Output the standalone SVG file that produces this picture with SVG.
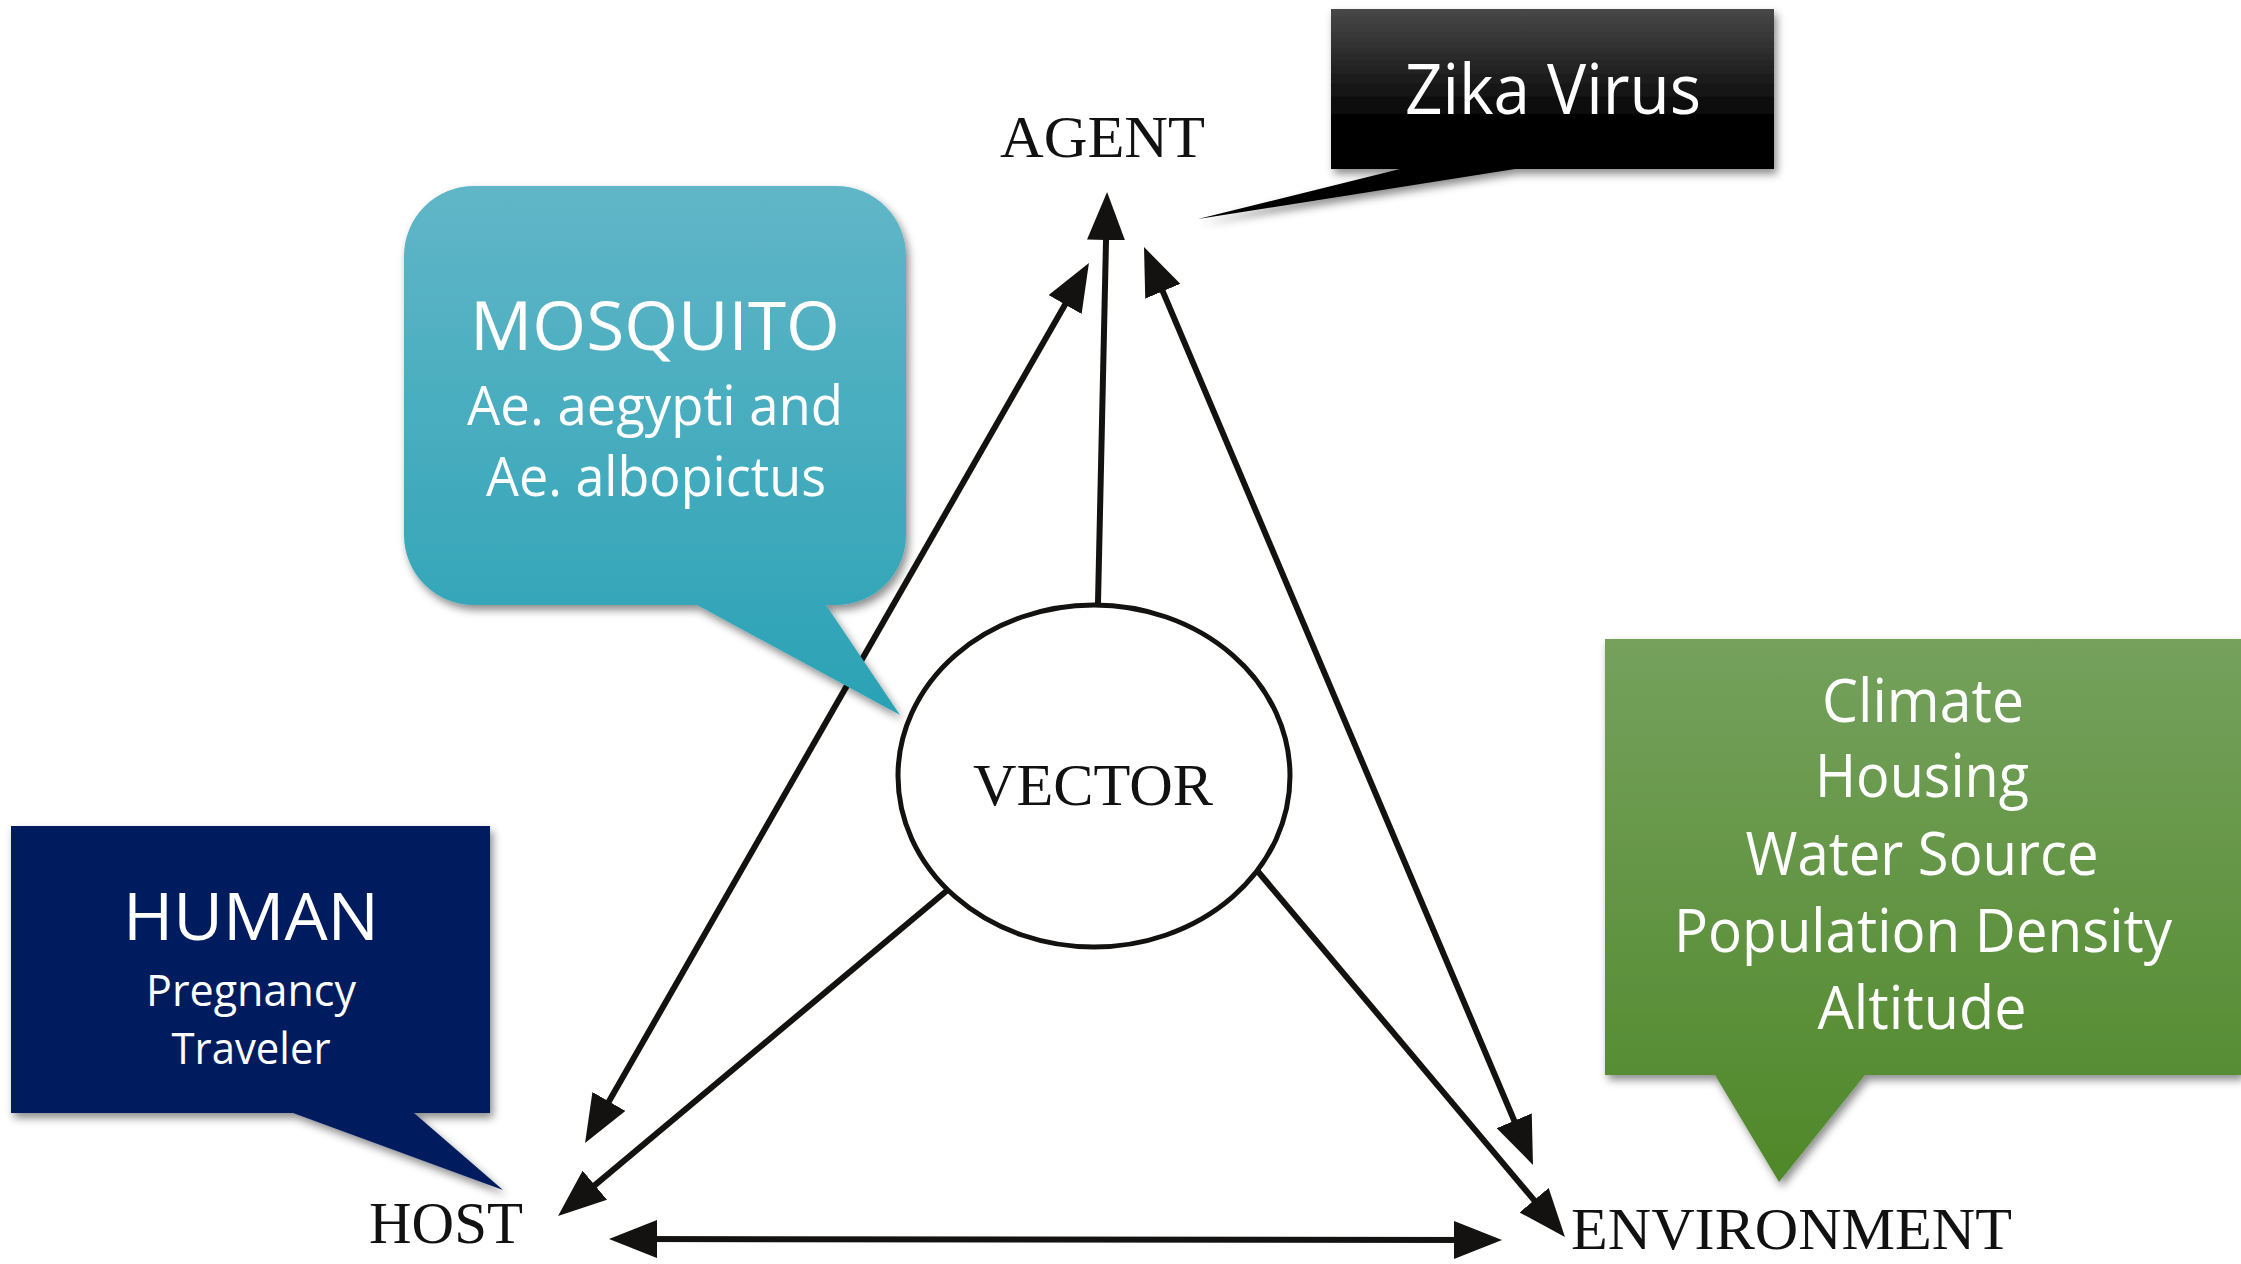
<svg xmlns="http://www.w3.org/2000/svg" width="2241" height="1264" viewBox="0 0 2241 1264">
<style>
.lbl{font-family:"Liberation Serif","Times New Roman",serif;font-size:60px;fill:#111;}
.ct{font-family:"Open Sans","Noto Sans",sans-serif;fill:#fff;text-anchor:middle;}
.ln{stroke:#141210;stroke-width:6;fill:none;}
</style>
<defs>
<marker id="ah" markerUnits="userSpaceOnUse" markerWidth="48" markerHeight="38" refX="26" refY="19" orient="auto-start-reverse" viewBox="0 0 48 38">
<path d="M0,0 L48,19 L0,38 Z" fill="#141210"/>
</marker>
<linearGradient id="gMos" x1="0" y1="0" x2="0" y2="1">
<stop offset="0" stop-color="#60b6c7"/>
<stop offset="1" stop-color="#2aa2b5"/>
</linearGradient>
<linearGradient id="gEnv" x1="0" y1="0" x2="0" y2="1">
<stop offset="0" stop-color="#75a15d"/>
<stop offset="1" stop-color="#4f8829"/>
</linearGradient>
<linearGradient id="gZika" x1="0" y1="0" x2="0" y2="1">
<stop offset="0" stop-color="#484848"/>
<stop offset="0.55" stop-color="#000"/>
<stop offset="1" stop-color="#000"/>
</linearGradient>
<filter id="sh" x="-10%" y="-10%" width="125%" height="130%">
<feDropShadow dx="3" dy="5" stdDeviation="4" flood-color="#000" flood-opacity="0.45"/>
</filter>
</defs>
<rect width="2241" height="1264" fill="#fff"/>

<g id="connectors">
<line class="ln" x1="1098" y1="603" x2="1106.6" y2="214" marker-end="url(#ah)"/>
<line class="ln" x1="596" y1="1124" x2="1078" y2="282" marker-start="url(#ah)" marker-end="url(#ah)"/>
<line class="ln" x1="1152.6" y1="267.3" x2="1524.4" y2="1144.7" marker-start="url(#ah)" marker-end="url(#ah)"/>
<line class="ln" x1="950" y1="888" x2="574.9" y2="1201.9" marker-end="url(#ah)"/>
<line class="ln" x1="1255" y1="868" x2="1550.8" y2="1220.1" marker-end="url(#ah)"/>
<line class="ln" x1="631" y1="1239" x2="1480" y2="1240" stroke-width="8" marker-start="url(#ah)" marker-end="url(#ah)"/>
</g>

<g id="agent"><text class="lbl" x="1000" y="157" textLength="205" lengthAdjust="spacingAndGlyphs">AGENT</text></g>
<g id="host"><text class="lbl" x="369" y="1243" textLength="154" lengthAdjust="spacingAndGlyphs">HOST</text></g>
<g id="environment"><text class="lbl" x="1571" y="1249" textLength="441" lengthAdjust="spacingAndGlyphs">ENVIRONMENT</text></g>
<g id="vector">
<ellipse cx="1094" cy="776" rx="196" ry="171" fill="#fff" stroke="#141210" stroke-width="5"/>
<text class="lbl" x="973" y="805" textLength="240" lengthAdjust="spacingAndGlyphs">VECTOR</text>
</g>

<g id="zika-callout">
<path d="M1331,9 H1774 V169 H1515 L1198,219 L1400,169 H1331 Z" fill="url(#gZika)" filter="url(#sh)"/>
<text class="ct" x="1553" y="114" font-size="70" textLength="296" lengthAdjust="spacingAndGlyphs">Zika Virus</text>
</g>

<g id="mosquito-callout">
<path d="M474,186 H836 A70,70 0 0 1 906,256 V535 A70,70 0 0 1 836,605 H826 L900,715 L697,605 H474 A70,70 0 0 1 404,535 V256 A70,70 0 0 1 474,186 Z" fill="url(#gMos)" filter="url(#sh)"/>
<text class="ct" x="655" y="350" font-size="68" textLength="370" lengthAdjust="spacingAndGlyphs">MOSQUITO</text>
<text class="ct" x="655" y="425" font-size="54" textLength="376" lengthAdjust="spacingAndGlyphs">Ae. aegypti and</text>
<text class="ct" x="656" y="496" font-size="54" textLength="340" lengthAdjust="spacingAndGlyphs">Ae. albopictus</text>
</g>

<g id="human-callout">
<path d="M11,826 H490 V1113 H414 L503,1190 L293,1113 H11 Z" fill="#021f5f" filter="url(#sh)"/>
<text class="ct" x="251" y="940" font-size="66" textLength="256" lengthAdjust="spacingAndGlyphs">HUMAN</text>
<text class="ct" x="251" y="1006" font-size="44" textLength="210" lengthAdjust="spacingAndGlyphs">Pregnancy</text>
<text class="ct" x="251" y="1064" font-size="44" textLength="159" lengthAdjust="spacingAndGlyphs">Traveler</text>
</g>

<g id="environment-callout">
<path d="M1605,639 H2241 V1075 H1865 L1779,1182 L1715,1075 H1605 Z" fill="url(#gEnv)" filter="url(#sh)"/>
<text class="ct" x="1923" y="722" font-size="60" textLength="202" lengthAdjust="spacingAndGlyphs">Climate</text>
<text class="ct" x="1922" y="797" font-size="60" textLength="214" lengthAdjust="spacingAndGlyphs">Housing</text>
<text class="ct" x="1922" y="875" font-size="60" textLength="353" lengthAdjust="spacingAndGlyphs">Water Source</text>
<text class="ct" x="1923" y="952" font-size="60" textLength="498" lengthAdjust="spacingAndGlyphs">Population Density</text>
<text class="ct" x="1922" y="1029" font-size="60" textLength="209" lengthAdjust="spacingAndGlyphs">Altitude</text>
</g>
</svg>
